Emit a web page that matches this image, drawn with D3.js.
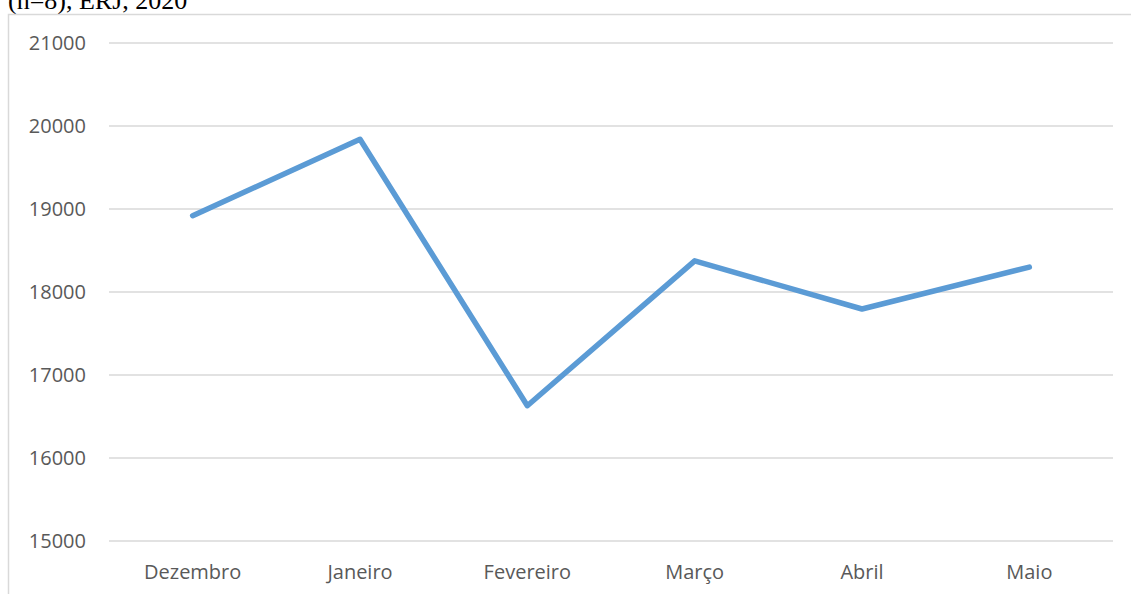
<!DOCTYPE html>
<html>
<head>
<meta charset="utf-8">
<script src="https://cdn.jsdelivr.net/npm/d3@7"></script>
<style>
  html, body { margin: 0; padding: 0; background: #fff; }
  svg { display: block; }
</style>
</head>
<body>
<svg id="chart" width="1131" height="594"></svg>
<script>
// Monthly totals, December to May
const months = ["Dezembro", "Janeiro", "Fevereiro", "Março", "Abril", "Maio"];
const totals = [18920, 19840, 16630, 18375, 17795, 18300];
const yTicks = [15000, 16000, 17000, 18000, 19000, 20000, 21000];

const svg = d3.select("#chart");
const W = 1131, H = 594;
const plot = { left: 109, right: 1113, top: 43, bottom: 541 };

// caption line above the frame (clipped at the top edge)
svg.append("text")
  .attr("x", 8).attr("y", 9)
  .attr("font-family", "'Liberation Serif', 'Times New Roman', serif")
  .attr("font-size", 26)
  .attr("fill", "#000")
  .text("(n=8), ERJ, 2020");

// chart frame
svg.append("path")
  .attr("d", `M8.5,${H} V14.5 H${W}`)
  .attr("fill", "none")
  .attr("stroke", "#d9d9d9")
  .attr("stroke-width", 1.5);

const x = d3.scaleBand().domain(months).range([plot.left, plot.right]).padding(0);
const y = d3.scaleLinear().domain([15000, 21000]).range([plot.bottom, plot.top]);

// horizontal gridlines
svg.append("g")
  .selectAll("line")
  .data(yTicks)
  .join("line")
  .attr("x1", plot.left).attr("x2", plot.right)
  .attr("y1", d => y(d)).attr("y2", d => y(d))
  .attr("stroke", "#d9d9d9")
  .attr("stroke-width", 1.5);

// y axis labels
const yAxis = d3.axisLeft(y).tickValues(yTicks).tickSize(0).tickPadding(0).tickFormat(d3.format("d"));
const gy = svg.append("g").attr("transform", "translate(86,0)").call(yAxis);
gy.select(".domain").remove();
gy.selectAll("text")
  .attr("font-family", "'Open Sans', sans-serif")
  .attr("font-size", 20)
  .attr("fill", "#595959");

// x axis labels
const xAxis = d3.axisBottom(x).tickSize(0).tickPadding(0);
const gx = svg.append("g").attr("transform", "translate(0,565)").call(xAxis);
gx.select(".domain").remove();
gx.selectAll("text")
  .attr("font-family", "'Open Sans', sans-serif")
  .attr("font-size", 20)
  .attr("fill", "#595959");

// series line
const line = d3.line()
  .x((d, i) => x(months[i]) + x.bandwidth() / 2)
  .y(d => y(d));

svg.append("path")
  .datum(totals)
  .attr("d", line)
  .attr("fill", "none")
  .attr("stroke", "#5b9bd5")
  .attr("stroke-width", 5.5)
  .attr("stroke-linejoin", "round")
  .attr("stroke-linecap", "round");
</script>
</body>
</html>
